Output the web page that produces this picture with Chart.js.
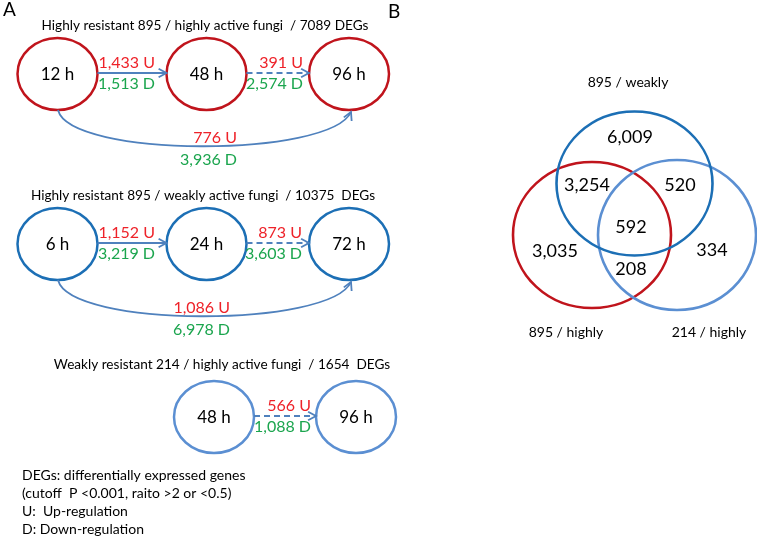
<!DOCTYPE html>
<html><head><meta charset="utf-8">
<script src="https://cdn.jsdelivr.net/npm/chart.js@4.4.1/dist/chart.umd.min.js"></script>
<style>html,body{margin:0;padding:0;background:#fff}canvas{display:block}</style>
</head><body>
<canvas id="c" width="757" height="537"></canvas>
<script>
// ---------------- data ----------------
const panelTitles = [
  "Highly resistant 895 / highly active fungi  / 7089 DEGs",
  "Highly resistant 895 / weakly active fungi  / 10375  DEGs",
  "Weakly resistant 214 / highly active fungi  / 1654  DEGs"
];
const timepoints1 = ["12 h", "48 h", "96 h"];
const timepoints2 = ["6 h", "24 h", "72 h"];
const timepoints3 = ["48 h", "96 h"];
const up1 = [1433, 391, 776];
const down1 = [1513, 2574, 3936];
const up2 = [1152, 873, 1086];
const down2 = [3219, 3603, 6978];
const up3 = [566];
const down3 = [1088];
const vennSetLabels = ["895 / weakly", "895 / highly", "214 / highly"];
const vennRegionNames = ["weakly only", "weakly+895h", "weakly+214h", "all three", "895h only", "895h+214h", "214h only"];
const vennCounts = [6009, 3254, 520, 592, 3035, 208, 334];
const notes = [
  "DEGs: differentially expressed genes",
  "(cutoff  P <0.001, raito >2 or <0.5)",
  "U:  Up-regulation",
  "D: Down-regulation"
];
const panelLetters = ["A", "B"];

// ---------------- layout & style ----------------
const RED = '#c0141c', DBLUE = '#1c6fb5', LBLUE = '#5b8fd2', ARROW = '#4f81bd';
const TRED = '#ee2229', TGREEN = '#1ba54e', INK = '#000000';
const FONT = 'Lato, "Liberation Sans", sans-serif';
const RX = 40, RY = 36;

const rowLayout = [
  { title: [205, 26], cy: 74, cx: [57.5, 206.5, 349], color: RED, labelRight: [155, 303, 237],
    curve: { p0: [58, 110], c1: [70, 158], c2: [330, 158], p3: [351, 112], uy: 138, dy: 160 } },
  { title: [203, 196], cy: 244, cx: [57.5, 206.5, 349], color: DBLUE, labelRight: [155, 302, 230],
    curve: { p0: [58, 280], c1: [70, 328], c2: [330, 328], p3: [351, 282], uy: 308, dy: 330 } },
  { title: [222, 365], cy: 417, cx: [214, 356], color: LBLUE, labelRight: [311] }
];
const rowData = [
  { times: timepoints1, up: up1, down: down1 },
  { times: timepoints2, up: up2, down: down2 },
  { times: timepoints3, up: up3, down: down3 }
];
const vennCircles = [ // drawing order: red, light blue, dark blue
  { set: 1, cx: 592, cy: 235, rx: 79, ry: 73, color: RED },
  { set: 2, cx: 677, cy: 235, rx: 79, ry: 75, color: LBLUE },
  { set: 0, cx: 634.5, cy: 183.5, rx: 78, ry: 72, color: DBLUE }
];
const vennSetLabelPos = [[628, 82], [566, 332], [709, 332]];
const vennRegionPos = [[630, 137], [587, 185], [680, 185], [631, 227], [555, 251], [631, 269], [712, 250]];
const notePos = { x: 22, y0: 475, dy: 18 };
const letterPos = [[3, 10], [388, 12]];

const fmt = v => v.toLocaleString('en-US');

const diagramPlugin = {
  id: 'diagram',
  afterDatasetsDraw(chart) {
    const ctx = chart.ctx, sx = chart.scales.x, sy = chart.scales.y;
    const X = v => sx.getPixelForValue(v), Y = v => sy.getPixelForValue(v);
    const text = (s, x, y, size, color, align = 'center') => {
      ctx.font = size + 'px ' + FONT; ctx.fillStyle = color;
      ctx.textAlign = align; ctx.textBaseline = 'middle';
      ctx.fillText(s, X(x), Y(y));
    };
    const ellipse = (cx, cy, rx, ry, color, lw) => {
      ctx.beginPath();
      ctx.ellipse(X(cx), Y(cy), Math.abs(X(cx + rx) - X(cx)), Math.abs(Y(cy + ry) - Y(cy)), 0, 0, Math.PI * 2);
      ctx.setLineDash([]); ctx.strokeStyle = color; ctx.lineWidth = lw; ctx.stroke();
    };
    const head = (x, y, ang) => {
      const len = 9, sp = 0.5;
      ctx.setLineDash([]);
      ctx.beginPath();
      ctx.moveTo(x - len * Math.cos(ang - sp), y - len * Math.sin(ang - sp));
      ctx.lineTo(x, y);
      ctx.lineTo(x - len * Math.cos(ang + sp), y - len * Math.sin(ang + sp));
      ctx.stroke();
    };
    ctx.save();
    ctx.lineCap = 'butt'; ctx.lineJoin = 'miter';

    // panel letters
    panelLetters.forEach((l, i) => text(l, letterPos[i][0], letterPos[i][1], 19, INK, 'left'));

    // panel A rows
    rowLayout.forEach((L, r) => {
      const D = rowData[r];
      text(panelTitles[r], L.title[0], L.title[1], 13.6, INK);
      D.times.forEach((t, i) => {
        ellipse(L.cx[i], L.cy, RX, RY, L.color, 2.5);
        text(t, L.cx[i], L.cy + 1, 17, INK);
      });
      // straight arrows between consecutive nodes
      for (let i = 0; i < D.times.length - 1; i++) {
        const ay = L.cy - 1;
        const x0 = X(L.cx[i] + RX), x1 = X(L.cx[i + 1] - RX), yy = Y(ay);
        const dashed = (i === D.times.length - 2 && D.times.length === 3) || D.times.length === 2;
        ctx.strokeStyle = ARROW; ctx.lineWidth = 1.8;
        ctx.setLineDash(dashed ? [6, 4] : []);
        ctx.beginPath(); ctx.moveTo(x0, yy); ctx.lineTo(x1 - 1, yy); ctx.stroke();
        head(x1, yy, 0);
        const k = i;
        text(fmt(D.up[k]) + ' U', L.labelRight[k], ay - 10, 16, TRED, 'right');
        text(fmt(D.down[k]) + ' D', L.labelRight[k], ay + 11, 16, TGREEN, 'right');
      }
      // curved arrow first -> last
      if (L.curve) {
        const c = L.curve;
        ctx.strokeStyle = ARROW; ctx.lineWidth = 1.8; ctx.setLineDash([]);
        ctx.beginPath();
        ctx.moveTo(X(c.p0[0]), Y(c.p0[1]));
        ctx.bezierCurveTo(X(c.c1[0]), Y(c.c1[1]), X(c.c2[0]), Y(c.c2[1]), X(c.p3[0]), Y(c.p3[1]));
        ctx.stroke();
        const ang = Math.atan2(Y(c.p3[1]) - Y(c.c2[1]), X(c.p3[0]) - X(c.c2[0]));
        head(X(c.p3[0]), Y(c.p3[1]), ang);
        const k = 2;
        text(fmt(D.up[k]) + ' U', L.labelRight[k], c.uy, 16, TRED, 'right');
        text(fmt(D.down[k]) + ' D', L.labelRight[k], c.dy, 16, TGREEN, 'right');
      }
    });

    // notes
    notes.forEach((n, i) => text(n, notePos.x, notePos.y0 + i * notePos.dy, 14, INK, 'left'));

    // panel B venn
    vennCircles.forEach(v => ellipse(v.cx, v.cy, v.rx, v.ry, v.color, 2.6));
    vennCounts.forEach((v, i) => text(fmt(v), vennRegionPos[i][0], vennRegionPos[i][1], 18, INK));
    vennSetLabels.forEach((s, i) => text(s, vennSetLabelPos[i][0], vennSetLabelPos[i][1], 14, INK));
    ctx.restore();
  }
};

new Chart(document.getElementById('c'), {
  type: 'scatter',
  data: { datasets: [{ label: 'nodes', data: [], pointRadius: 0 }] },
  options: {
    responsive: false, animation: false, devicePixelRatio: 1,
    layout: { padding: 0 },
    plugins: { legend: { display: false }, tooltip: { enabled: false } },
    scales: {
      x: { type: 'linear', min: 0, max: 757, display: false },
      y: { type: 'linear', min: 0, max: 537, reverse: true, display: false }
    }
  },
  plugins: [diagramPlugin]
});
</script>
</body></html>
